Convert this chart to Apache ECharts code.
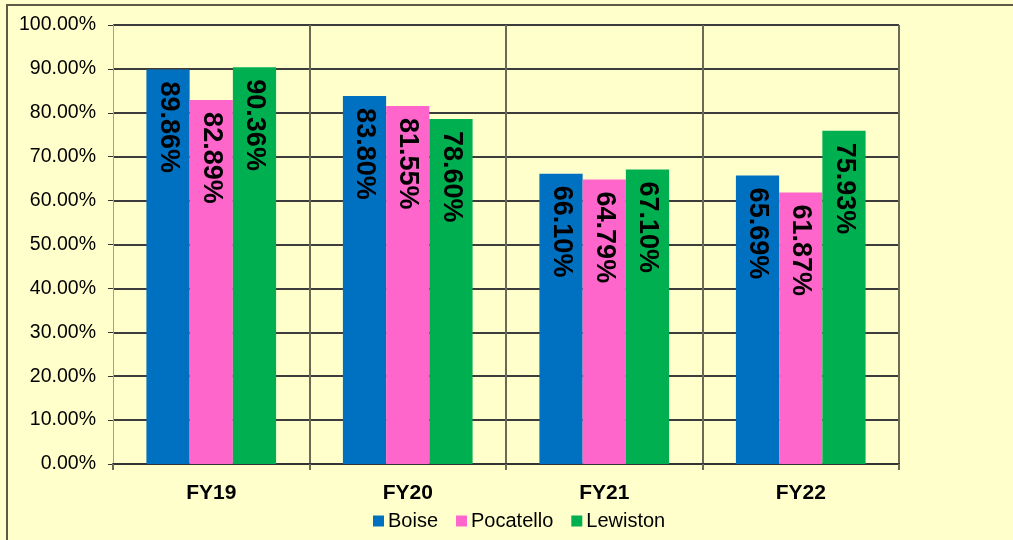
<!DOCTYPE html>
<html>
<head>
<meta charset="utf-8">
<script src="https://cdn.jsdelivr.net/npm/echarts@6/dist/echarts.min.js"></script>
<style>
  html, body { margin: 0; padding: 0; background: #FFFFCC; overflow: hidden; }
  #wrap { position: relative; width: 1013px; height: 540px; overflow: hidden; }
  #chart { position: absolute; left: 0; top: 0; width: 1013px; height: 540px; }
  #frame { position: absolute; left: 6px; top: 4px; width: 1100px; height: 600px;
           border-left: 2px solid #5a5a45; border-top: 2px solid #5a5a45; pointer-events: none; }
</style>
</head>
<body>
<div id="wrap">
  <div id="chart"></div>
  <div id="frame"></div>
</div>
<script>
const categories = ['FY19', 'FY20', 'FY21', 'FY22'];
const boise = [89.86, 83.80, 66.10, 65.69];
const pocatello = [82.89, 81.55, 64.79, 61.87];
const lewiston = [90.36, 78.60, 67.10, 75.93];
const seriesNames = ['Boise', 'Pocatello', 'Lewiston'];
const colors = ['#0070C0', '#FF66CC', '#00B050'];

const chart = echarts.init(document.getElementById('chart'), null, { renderer: 'canvas' });

const labelCfg = {
  show: true,
  position: 'insideTop',
  rotate: -90,
  align: 'left',
  verticalAlign: 'middle',
  distance: 12,
  fontFamily: 'Liberation Sans, Arial, sans-serif',
  fontWeight: 'bold',
  fontSize: 27,
  color: '#000',
  formatter: p => p.value.toFixed(2) + '%'
};

function mkSeries(name, data, color) {
  return {
    name: name,
    type: 'bar',
    data: data,
    barGap: '0%',
    barCategoryGap: '34%',
    itemStyle: { color: color },
    label: labelCfg
  };
}

chart.setOption({
  backgroundColor: '#FFFFCC',
  animation: false,
  color: colors,
  grid: { left: 113, right: 114, top: 25, bottom: 76, containLabel: false },
  legend: {
    data: seriesNames,
    left: 368,
    top: 506,
    itemWidth: 11,
    itemHeight: 11,
    itemGap: 18,
    icon: 'rect',
    textStyle: { fontFamily: 'Liberation Sans, Arial, sans-serif', fontSize: 20, color: '#000', padding: [0, 0, 0, -1] }
  },
  xAxis: {
    type: 'category',
    data: categories,
    axisLine: { show: true, lineStyle: { color: '#333', width: 2 } },
    axisTick: { show: true, length: 6, lineStyle: { color: '#6b6b55', width: 2 } },
    splitLine: { show: true, interval: (i) => i !== 0, lineStyle: { color: '#6b6b55', width: 2 } },
    axisLabel: {
      fontFamily: 'Liberation Sans, Arial, sans-serif',
      fontWeight: 'bold',
      fontSize: 21,
      color: '#000',
      margin: 19
    }
  },
  yAxis: {
    type: 'value',
    min: 0,
    max: 100,
    interval: 10,
    axisLine: { show: true, lineStyle: { color: '#a0a0a0', width: 1 } },
    axisTick: { show: true, length: 5, lineStyle: { color: '#333' } },
    splitLine: { show: true, lineStyle: { color: '#3c3c3c', width: 2 } },
    axisLabel: {
      fontFamily: 'Liberation Sans, Arial, sans-serif',
      fontSize: 19.5,
      color: '#000',
      margin: 17,
      formatter: v => v.toFixed(2) + '%'
    }
  },
  series: [
    mkSeries(seriesNames[0], boise, colors[0]),
    mkSeries(seriesNames[1], pocatello, colors[1]),
    mkSeries(seriesNames[2], lewiston, colors[2])
  ]
});
</script>
</body>
</html>
